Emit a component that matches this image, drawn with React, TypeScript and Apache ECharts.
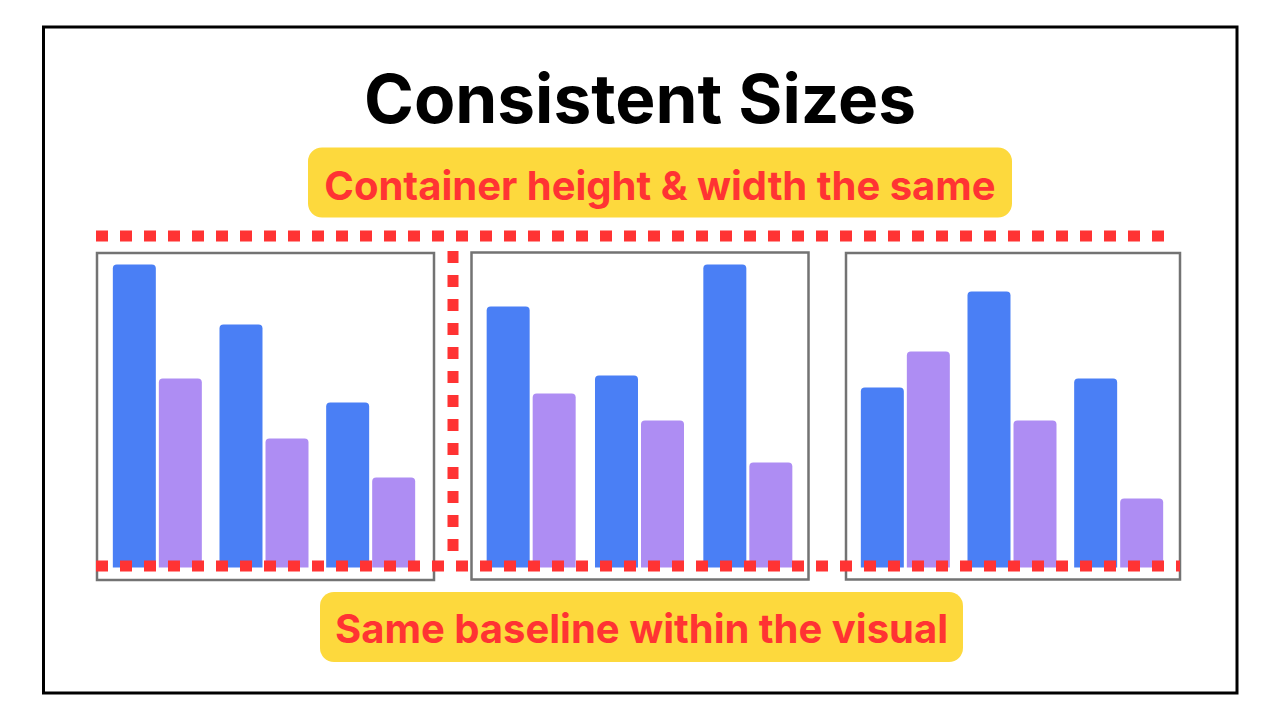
import React, { useEffect, useRef } from "react";
import * as echarts from "echarts";

const categories = ["A", "B", "C"];
const chart1Blue = [101, 81, 55];
const chart1Purple = [63, 43, 30];
const chart2Blue = [87, 64, 101];
const chart2Purple = [58, 49, 35];
const chart3Blue = [60, 92, 63];
const chart3Purple = [72, 49, 23];

const titleText = "Consistent Sizes";
const topLabel = "Container height & width the same";
const bottomLabel = "Same baseline within the visual";

const BLUE = "#4A7FF5";
const PURPLE = "#AE8DF3";
const RED = "#FF3333";
const YELLOW = "#FDD93D";
const BOX = "#737373";
const FONT = "Inter";

export default function App() {
  const ref = useRef<HTMLDivElement>(null);
  useEffect(() => {
    if (!ref.current) return;
    const chart = echarts.init(ref.current, null, { renderer: "svg" });
    const grids = [
      { left: 104, width: 320, top: 237.5, height: 330 },
      { left: 477, width: 325, top: 237.5, height: 330 },
      { left: 852, width: 320, top: 237.5, height: 330 },
    ];
    const data = [
      [chart1Blue, chart1Purple],
      [chart2Blue, chart2Purple],
      [chart3Blue, chart3Purple],
    ];
    const series: any[] = [];
    data.forEach((pair, i) => {
      series.push({
        type: "bar",
        xAxisIndex: i,
        yAxisIndex: i,
        data: pair[0],
        barWidth: 43,
        barGap: "7%",
        itemStyle: { color: BLUE, borderRadius: [4, 4, 0, 0] },
        z: 2,
      });
      series.push({
        type: "bar",
        xAxisIndex: i,
        yAxisIndex: i,
        data: pair[1],
        barWidth: 43,
        barGap: "7%",
        itemStyle: { color: PURPLE, borderRadius: [4, 4, 0, 0] },
        z: 2,
      });
    });
    const dotStyle = { stroke: RED, lineWidth: 11, lineDash: [12, 12], lineCap: "butt" };
    const textStyle = (text: string, size: number, color: string) => ({
      text,
      fill: color,
      fontSize: size,
      fontWeight: "bold",
      fontFamily: FONT,
      align: "center",
      verticalAlign: "middle",
      textAlign: "center",
      textVerticalAlign: "middle",
    });
    chart.setOption({
      animation: false,
      backgroundColor: "#ffffff",
      grid: grids,
      xAxis: grids.map((_, i) => ({ type: "category", gridIndex: i, data: categories, show: false })),
      yAxis: grids.map((_, i) => ({ type: "value", gridIndex: i, min: 0, max: 110, show: false })),
      series,
      graphic: [
        {
          type: "rect",
          z: 0,
          shape: { x: 43.5, y: 27, width: 1193.5, height: 666 },
          style: { fill: "none", stroke: "#000", lineWidth: 3 },
        },
        { type: "text", x: 640, y: 98, z: 10, style: textStyle(titleText, 67.5, "#000") },
        {
          type: "rect",
          z: 5,
          shape: { x: 308, y: 147.5, width: 704, height: 70, r: 14 },
          style: { fill: YELLOW },
        },
        { type: "text", x: 660, y: 185, z: 10, style: textStyle(topLabel, 40, RED) },
        {
          type: "rect",
          z: 5,
          shape: { x: 320, y: 592, width: 643, height: 70, r: 14 },
          style: { fill: YELLOW },
        },
        { type: "text", x: 641.5, y: 628, z: 10, style: textStyle(bottomLabel, 40, RED) },
        {
          type: "rect",
          z: 0,
          shape: { x: 97, y: 253, width: 337, height: 327 },
          style: { fill: "none", stroke: BOX, lineWidth: 2.5 },
        },
        {
          type: "rect",
          z: 0,
          shape: { x: 471.5, y: 252.5, width: 337, height: 327 },
          style: { fill: "none", stroke: BOX, lineWidth: 2.5 },
        },
        {
          type: "rect",
          z: 0,
          shape: { x: 846, y: 253, width: 334, height: 326.5 },
          style: { fill: "none", stroke: BOX, lineWidth: 2.5 },
        },
        { type: "line", z: 100, shape: { x1: 96, y1: 236, x2: 1164, y2: 236 }, style: dotStyle },
        { type: "line", z: 100, shape: { x1: 96, y1: 566, x2: 1180, y2: 566 }, style: dotStyle },
        { type: "line", z: 100, shape: { x1: 453, y1: 251, x2: 453, y2: 551 }, style: dotStyle },
      ],
    });
    return () => chart.dispose();
  }, []);
  return (
    <div
      ref={ref}
      style={{ position: "fixed", left: 0, top: 0, width: 1280, height: 720, background: "#fff" }}
    />
  );
}
